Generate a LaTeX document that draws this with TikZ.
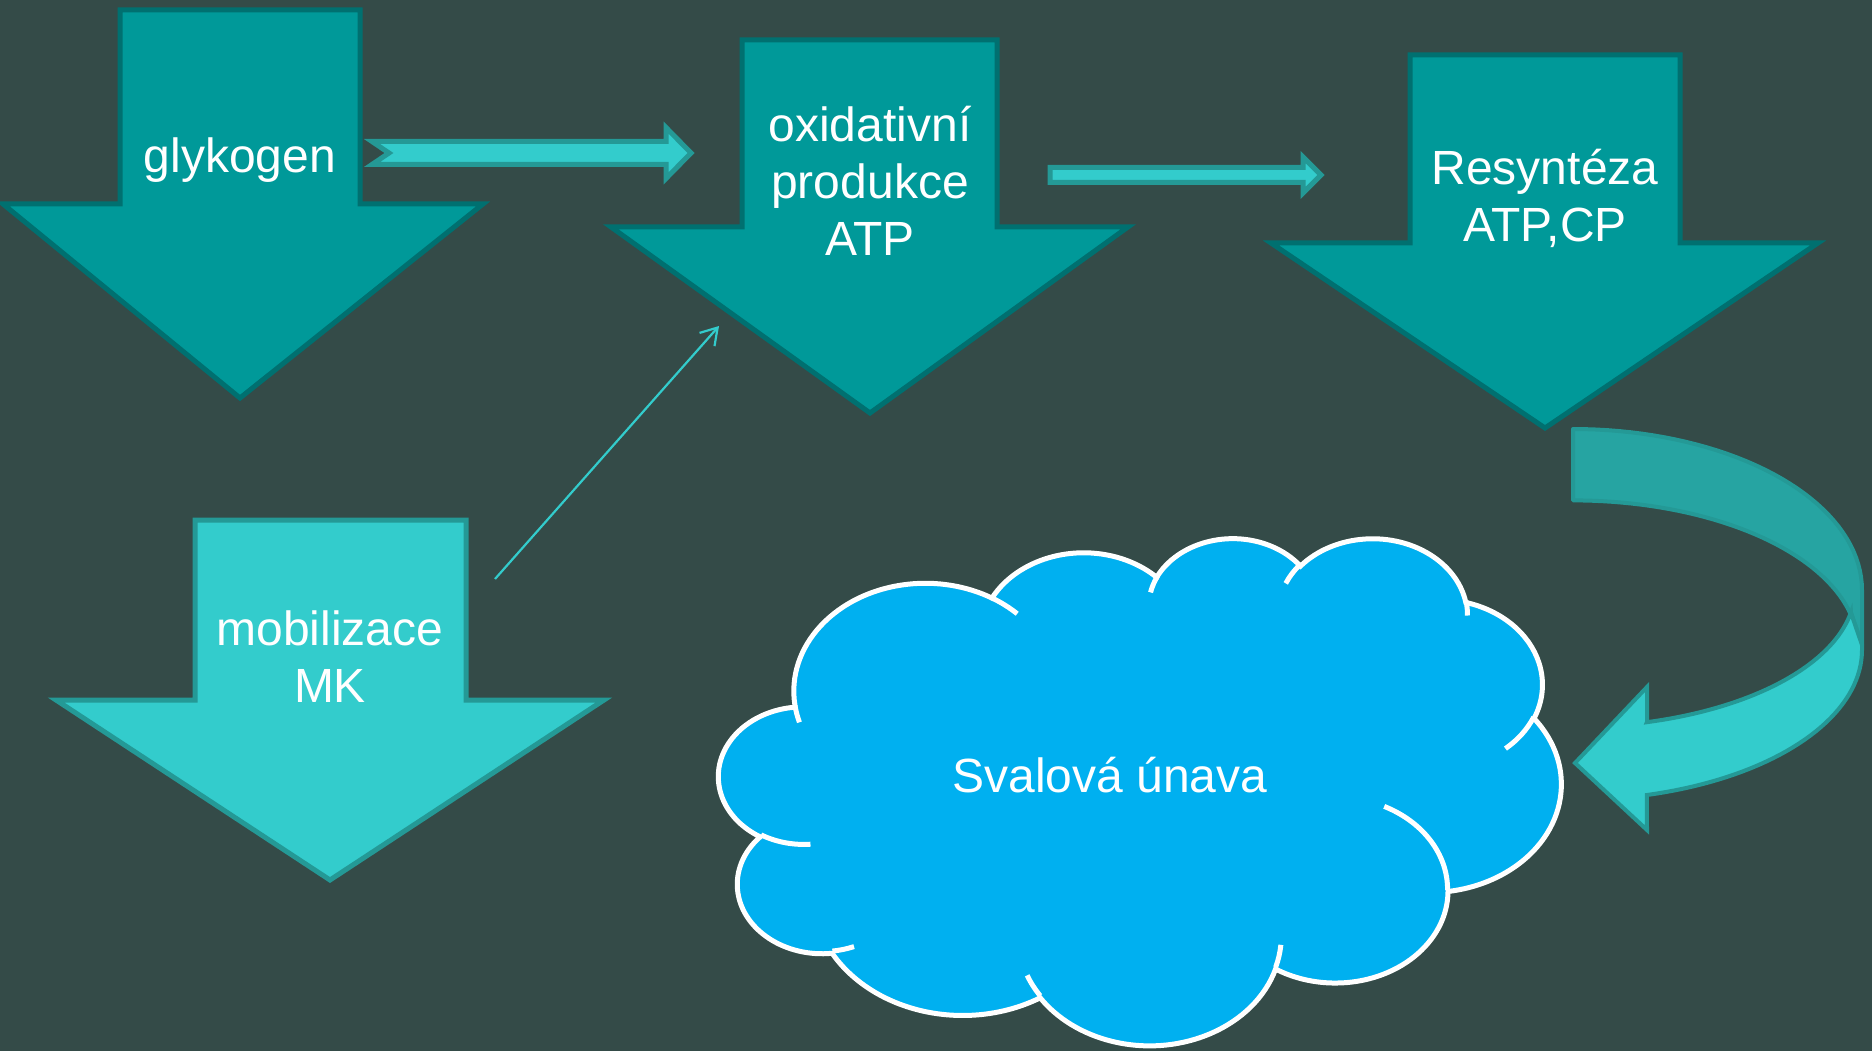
\documentclass[tikz,border=0pt]{standalone}
\usepackage{fontspec}
\setmainfont{Liberation Sans}
\usetikzlibrary{arrows.meta}
\definecolor{bgcol}{RGB}{52,75,72}
\definecolor{darkfill}{RGB}{0,153,153}
\definecolor{darkline}{RGB}{0,112,112}
\definecolor{lightfill}{RGB}{51,204,204}
\definecolor{lightline}{RGB}{36,153,150}
\definecolor{backfill}{RGB}{38,164,162}
\definecolor{cloudfill}{RGB}{0,176,240}
% OOXML arc angles (geometric) -> TikZ parametric angles
\newcommand\cldarc[5]{%
  \pgfmathsetmacro\cldtmpS{atan2((#2)*sin(#4),(#3)*cos(#4))}%
  \pgfmathsetmacro\cldtmpT{atan2((#2)*sin(#4+#5),(#3)*cos(#4+#5))}%
  \pgfmathsetmacro\cldtmpD{\cldtmpT-\cldtmpS}%
  \pgfmathsetmacro\cldtmpD{\cldtmpD-360*floor(\cldtmpD/360)}%
  \pgfmathsetmacro\cldtmpE{\cldtmpS+\cldtmpD}%
  \expandafter\xdef\csname cldS#1\endcsname{\cldtmpS}%
  \expandafter\xdef\csname cldE#1\endcsname{\cldtmpE}%
}
\begin{document}
\begin{tikzpicture}[x=1pt,y=-1pt,
  darkarrow/.style={fill=darkfill,draw=darkline,line width=5pt,line join=miter},
  lightarrow/.style={fill=lightfill,draw=lightline,line width=5pt,line join=miter},
  backband/.style={fill=backfill,draw=lightline,line width=4pt,line join=round},
  frontband/.style={fill=lightfill,draw=lightline,line width=4pt,line join=miter},
  cloudshape/.style={fill=cloudfill,draw=white,line width=5pt},
  cloudline/.style={draw=white,line width=5pt},
  thinarrow/.style={draw=lightfill,line width=2.2pt,-{Straight Barb[length=16pt,width=20pt]}},
  lbl/.style={font=\fontsize{48}{57}\selectfont,text=white,align=center,inner sep=0pt}]
\useasboundingbox (0,0) rectangle (1872,1051);
\fill[bgcol] (0,0) rectangle (1872,1051);

% ---- big down arrows ----
\draw[darkarrow] (120,10) -- (360,10) -- (360,204) -- (483,204) -- (240,398)
  -- (3,204) -- (120,204) -- cycle;
\draw[darkarrow] (742,40) -- (997,40) -- (997,227) -- (1128,227) -- (870,413)
  -- (611,227) -- (742,227) -- cycle;
\draw[darkarrow] (1410,55) -- (1680,55) -- (1680,243) -- (1818,243) -- (1545,428)
  -- (1271,243) -- (1410,243) -- cycle;
\draw[lightarrow] (195,520) -- (466,520) -- (466,700) -- (604,700) -- (330,880)
  -- (56,700) -- (195,700) -- cycle;

% ---- small horizontal arrows ----
\draw[lightarrow] (372,141.5) -- (666,141.5) -- (666,127.5) -- (691,153) -- (666,178.5)
  -- (666,164.5) -- (372,164.5) -- (389,153) -- cycle;
\draw[lightarrow] (1050,167.5) -- (1303,167.5) -- (1303,157) -- (1321,175) -- (1303,193)
  -- (1303,182.5) -- (1050,182.5) -- cycle;

% ---- thin arrow ----
\coordinate (thinS) at (495,579);
\coordinate (thinE) at (719,326);
\draw[thinarrow] (thinS) -- (thinE);

% ---- curved arrow ----
\draw[backband] plot[domain=-90:0,samples=40,variable=\t] ({1573+289*cos(\t)},{590+161*sin(\t)})
  -- (1862,645) -- (1851,613)
  -- plot[domain=-12.7:-90,samples=40,variable=\t] ({1573+285*cos(\t)},{647.4+147*sin(\t)})
  -- cycle;
\draw[frontband] (1851,613) -- (1862,645)
  -- plot[domain=0:75.2,samples=40,variable=\t] ({1573+289*cos(\t)},{650+150*sin(\t)})
  -- (1647,830) -- (1575,763) -- (1647,687) -- (1647,722)
  -- plot[domain=74.8:9.7,samples=40,variable=\t] ({1573+282*cos(\t)},{589+138*sin(\t)})
  -- cycle;

% ---- cloud (OOXML cloud geometry, 432 x 432 units) ----
\cldarc{a}{67.53}{91.90}{-190.487483}{123.780533}
\cldarc{b}{53.33}{72.67}{-144.102383}{89.945233}
\cldarc{c}{43.65}{59.45}{-145.807917}{99.723017}
\cldarc{d}{48.57}{65.95}{-130.986067}{117.241733}
\cldarc{e}{53.33}{72.73}{-78.708883}{109.026917}
\cldarc{f}{67.75}{92.20}{-46.26725}{130.269}
\cldarc{g}{57.85}{78.67}{0.625017}{114.033333}
\cldarc{h}{67.52}{92.15}{22.4516}{115.17255}
\cldarc{i}{77.20}{105.43}{66.242633}{75.711017}
\cldarc{j}{43.60}{59.18}{-274.942083}{146.735567}
\cldarc{k}{43.45}{59.45}{-246.8285}{152.51885}
\cldarc{l}{43.45}{59.45}{86.742}{26.4295}
\cldarc{m}{43.60}{59.18}{73.610467}{11.447467}
\cldarc{n}{67.52}{92.15}{137.62415}{14.0811}
\cldarc{o}{67.52}{92.15}{6.453267}{15.99835}
\cldarc{p}{57.85}{78.67}{-70.29235}{70.917367}
\cldarc{q}{53.33}{72.73}{30.318033}{27.7515}
\cldarc{r}{48.57}{65.95}{-13.744333}{14.8589}
\cldarc{s}{48.57}{65.95}{-149.18145}{18.195367}
\cldarc{t}{43.65}{59.45}{-163.494267}{17.68635}
\cldarc{u}{67.53}{91.90}{-66.70695}{12.31935}
\cldarc{v}{67.53}{91.90}{157.65435}{11.858167}
\begin{scope}[shift={(719,537)},x=1.94907pt,y=-1.17361pt]
\draw[cloudshape] (39.00,143.70)
  arc[start angle=\cldSa,end angle=\cldEa,x radius=67.53,y radius=91.90]
  arc[start angle=\cldSb,end angle=\cldEb,x radius=53.33,y radius=72.67]
  arc[start angle=\cldSc,end angle=\cldEc,x radius=43.65,y radius=59.45]
  arc[start angle=\cldSd,end angle=\cldEd,x radius=48.57,y radius=65.95]
  arc[start angle=\cldSe,end angle=\cldEe,x radius=53.33,y radius=72.73]
  arc[start angle=\cldSf,end angle=\cldEf,x radius=67.75,y radius=92.20]
  arc[start angle=\cldSg,end angle=\cldEg,x radius=57.85,y radius=78.67]
  arc[start angle=\cldSh,end angle=\cldEh,x radius=67.52,y radius=92.15]
  arc[start angle=\cldSi,end angle=\cldEi,x radius=77.20,y radius=105.43]
  arc[start angle=\cldSj,end angle=\cldEj,x radius=43.60,y radius=59.18]
  arc[start angle=\cldSk,end angle=\cldEk,x radius=43.45,y radius=59.45]
  -- cycle;
\draw[cloudline] (46.93,261.77) arc[start angle=\cldSl,end angle=\cldEl,x radius=43.45,y radius=59.45];
\draw[cloudline] (69.28,348.99) arc[start angle=\cldSm,end angle=\cldEm,x radius=43.60,y radius=59.18];
\draw[cloudline] (164.78,390.90) arc[start angle=\cldSn,end angle=\cldEn,x radius=67.52,y radius=92.15];
\draw[cloudline] (288.27,347.51) arc[start angle=\cldSo,end angle=\cldEo,x radius=67.52,y radius=92.15];
\draw[cloudline] (341.29,229.54) arc[start angle=\cldSp,end angle=\cldEp,x radius=57.85,y radius=78.67];
\draw[cloudline] (417.98,153.54) arc[start angle=\cldSq,end angle=\cldEq,x radius=53.33,y radius=72.73];
\draw[cloudline] (383.24,54.26) arc[start angle=\cldSr,end angle=\cldEr,x radius=48.57,y radius=65.95];
\draw[cloudline] (290.78,39.52) arc[start angle=\cldSs,end angle=\cldEs,x radius=48.57,y radius=65.95];
\draw[cloudline] (221.41,47.20) arc[start angle=\cldSt,end angle=\cldEt,x radius=43.65,y radius=59.45];
\draw[cloudline] (140.00,51.92) arc[start angle=\cldSu,end angle=\cldEu,x radius=67.53,y radius=91.90];
\draw[cloudline] (41.27,157.89) arc[start angle=\cldSv,end angle=\cldEv,x radius=67.53,y radius=91.90];
\end{scope}

% ---- labels ----
\node[lbl,anchor=base] (tGly) at (240,173) {glykogen};
\node[lbl,anchor=base] (tOxi) at (870,255) {oxidativní\\produkce\\ATP};
\node[lbl,anchor=base] (tRes) at (1545,242) {Resyntéza\\ATP,CP};
\node[lbl,anchor=base] (tMob) at (330,702) {mobilizace\\MK};
\node[lbl,anchor=base] (tSva) at (1110,792) {Svalová únava};
\end{tikzpicture}
\end{document}
